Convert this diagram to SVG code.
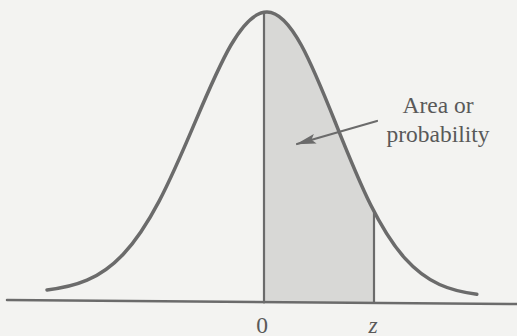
<svg xmlns="http://www.w3.org/2000/svg" width="517" height="336" viewBox="0 0 517 336">
  <style>
    .ln { fill: none; stroke: #6b6b6b; stroke-linecap: round; }
    .txt { font-family: "Liberation Serif", "Times New Roman", serif; font-size: 23.5px; fill: #595959; text-anchor: middle; }
  </style>
  <defs>
    <path id="curvePath" d="M47,289.9 C60.33,288.43 73.67,285.9 87,280.2 C99,275.07 111,267.15 123,254.5 C135,241.85 147,224.18 159,201.4 C171,178.62 183,150.76 195,122.4 C207,94.04 219,65.63 231,45 C243,24.37 255,12 267,12 C278.5,12 290,24.55 301.5,45.5 C313,66.45 324.5,95.29 336,124.1 C347.5,152.91 359,181.36 370.5,204.5 C382,227.64 393.5,245.54 405,258.4 C416.5,271.26 428,279.29 439.5,284.5 C451.93,290.13 464.37,292.66 476.8,294.2"/>
    <clipPath id="underCurve">
      <path d="M47,289.9 C60.33,288.43 73.67,285.9 87,280.2 C99,275.07 111,267.15 123,254.5 C135,241.85 147,224.18 159,201.4 C171,178.62 183,150.76 195,122.4 C207,94.04 219,65.63 231,45 C243,24.37 255,12 267,12 C278.5,12 290,24.55 301.5,45.5 C313,66.45 324.5,95.29 336,124.1 C347.5,152.91 359,181.36 370.5,204.5 C382,227.64 393.5,245.54 405,258.4 C416.5,271.26 428,279.29 439.5,284.5 C451.93,290.13 464.37,292.66 476.8,294.2 L476.8,305 L47,305 Z"/>
    </clipPath>
    <marker id="arrowHead" viewBox="0 0 20 10" refX="19" refY="5" markerWidth="20" markerHeight="10" markerUnits="userSpaceOnUse" orient="auto">
      <path d="M0,0 L20,5 L0,10 L4,5 Z" fill="#6b6b6b"/>
    </marker>
  </defs>
  <rect x="0" y="0" width="517" height="336" fill="#f3f3f1"/>
  <g id="shaded-area">
    <rect x="264" y="0" width="110" height="303" fill="#d8d8d6" clip-path="url(#underCurve)"/>
  </g>
  <g id="normal-curve">
    <use href="#curvePath" class="ln" stroke-width="3.5"/>
  </g>
  <g id="axis">
    <line class="ln" x1="7" y1="300" x2="517" y2="304" stroke-width="2.5"/>
    <line class="ln" x1="264" y1="12" x2="264" y2="302.5" stroke-width="2.2"/>
    <line class="ln" x1="374" y1="213" x2="374" y2="303" stroke-width="2.2"/>
  </g>
  <g id="connectors">
    <line class="ln" x1="377" y1="121" x2="297" y2="144" stroke-width="2.2" marker-end="url(#arrowHead)"/>
  </g>
  <g id="label-area">
    <text class="txt" x="438" y="113">Area or</text>
    <text class="txt" x="438" y="142">probability</text>
  </g>
  <g id="label-zero">
    <text class="txt" x="262" y="332.5">0</text>
  </g>
  <g id="label-z">
    <text class="txt" x="373" y="332.5" font-style="italic">z</text>
  </g>
</svg>
